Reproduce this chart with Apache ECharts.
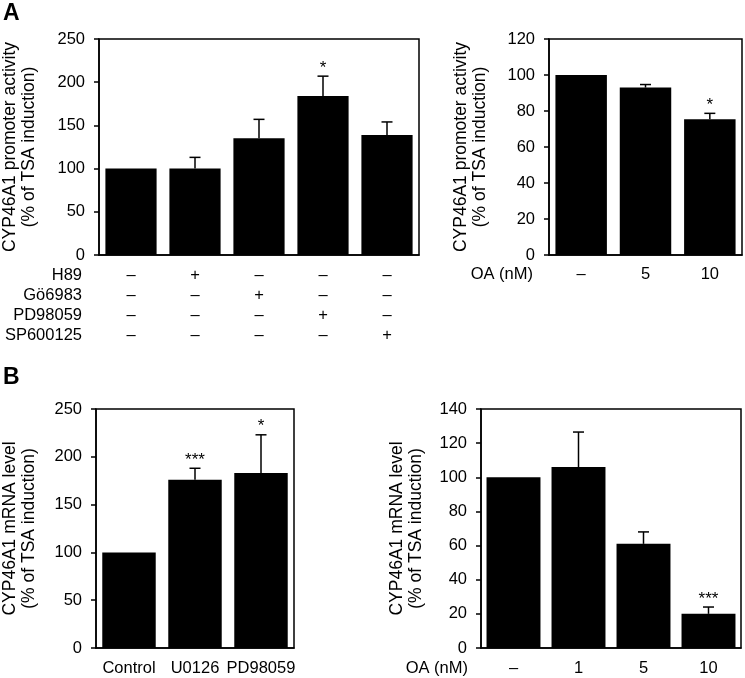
<!DOCTYPE html>
<html>
<head>
<meta charset="utf-8">
<script src="https://cdn.jsdelivr.net/npm/echarts@6/dist/echarts.min.js"></script>
<style>
html,body{margin:0;padding:0;background:#fff;}
#chart{width:745px;height:678px;}
</style>
</head>
<body>
<div id="chart"></div>
<script>
// ---- Data ----
// Panel A (left): promoter activity with kinase inhibitors
const aLeftRows = ['H89', 'Gö6983', 'PD98059', 'SP600125'];
const aLeftTreat = [
  [0, 1, 0, 0, 0],
  [0, 0, 1, 0, 0],
  [0, 0, 0, 1, 0],
  [0, 0, 0, 0, 1]
];
const aLeftVals = [100, 100, 135, 184, 139];
const aLeftSem  = [0, 13, 22, 23, 15];
const aLeftSig  = ['', '', '', '*', ''];
const aLeftTicks = [0, 50, 100, 150, 200, 250];

// Panel A (right): promoter activity with OA
const aRightCats = ['–', '5', '10'];
const aRightVals = [100, 93, 75.4];
const aRightSem  = [0, 1.7, 3.3];
const aRightSig  = ['', '', '*'];
const aRightTicks = [0, 20, 40, 60, 80, 100, 120];

// Panel B (left): mRNA level with MEK inhibitors
const bLeftCats = ['Control', 'U0126', 'PD98059'];
const bLeftVals = [100, 176, 183];
const bLeftSem  = [0, 12, 40];
const bLeftSig  = ['', '***', '*'];
const bLeftTicks = [0, 50, 100, 150, 200, 250];

// Panel B (right): mRNA level with OA
const bRightCats = ['–', '1', '5', '10'];
const bRightVals = [100, 106, 61, 20];
const bRightSem  = [0, 20.5, 7, 4];
const bRightSig  = ['', '', '', '***'];
const bRightTicks = [0, 20, 40, 60, 80, 100, 120, 140];

const rowLabelName = 'OA (nM)';
const nameA = 'CYP46A1 promoter activity\n(% of TSA induction)';
const nameB = 'CYP46A1 mRNA level\n(% of TSA induction)';

// ---- Build ----
const FONT = 'Liberation Sans, Arial, sans-serif';
const FS = 16.5;
const aLeftCats = aLeftVals.map((_, j) => aLeftTreat.map(r => r[j] ? '+' : '–').join('\n'));

const panels = [
  {grid: {left: 97, top: 39, width: 322, height: 216}, cats: aLeftCats, vals: aLeftVals, sem: aLeftSem, sig: aLeftSig, ticks: aLeftTicks, name: nameA, gap: 60, bw: '80%', lblMargin: 10, lh: 20},
  {grid: {left: 549, top: 39, width: 193, height: 216}, cats: aRightCats, vals: aRightVals, sem: aRightSem, sig: aRightSig, ticks: aRightTicks, name: nameA, gap: 59, bw: '80%', lblMargin: 9, lh: 20},
  {grid: {left: 96, top: 409, width: 198, height: 239}, cats: bLeftCats, vals: bLeftVals, sem: bLeftSem, sig: bLeftSig, ticks: bLeftTicks, name: nameB, gap: 57, bw: '81%', lblMargin: 10, lh: 20},
  {grid: {left: 481, top: 409, width: 260, height: 239}, cats: bRightCats, vals: bRightVals, sem: bRightSem, sig: bRightSig, ticks: bRightTicks, name: nameB, gap: 55, bw: '83%', lblMargin: 10, lh: 20}
];

const grids = [], xAxes = [], yAxes = [], series = [];
panels.forEach((p, i) => {
  grids.push(Object.assign({show: true, borderColor: '#000', borderWidth: 1.5, backgroundColor: 'transparent'}, p.grid));
  xAxes.push({
    type: 'category', gridIndex: i, data: p.cats,
    axisLine: {show: true, lineStyle: {color: '#000', width: 1.5}},
    axisTick: {show: false},
    axisLabel: {interval: 0, color: '#000', fontFamily: FONT, fontSize: FS, margin: p.lblMargin, lineHeight: p.lh}
  });
  const tk = p.ticks;
  yAxes.push({
    type: 'value', gridIndex: i, min: tk[0], max: tk[tk.length - 1], interval: tk[1] - tk[0],
    name: p.name, nameLocation: 'middle', nameRotate: 90, nameGap: p.gap,
    nameTextStyle: {color: '#000', fontFamily: FONT, fontSize: 17.5, lineHeight: 19, align: 'center'},
    axisLine: {show: true, lineStyle: {color: '#000', width: 1.5}},
    axisTick: {show: true, inside: false, length: 5, lineStyle: {color: '#000', width: 1.5}},
    axisLabel: {color: '#000', fontFamily: FONT, fontSize: FS, margin: 14},
    splitLine: {show: false}
  });
  series.push({
    type: 'bar', xAxisIndex: i, yAxisIndex: i, data: p.vals, barWidth: p.bw,
    itemStyle: {color: '#000'}, silent: true, z: 2
  });
  const errData = p.vals.map((v, j) => [j, v, v + p.sem[j]]);
  series.push({
    type: 'custom', xAxisIndex: i, yAxisIndex: i, data: errData, z: 3, silent: true,
    renderItem: (params, api) => {
      const j = params.dataIndex;
      if (!p.sem[j]) return null;
      const b = api.coord([api.value(0), api.value(1)]);
      const t = api.coord([api.value(0), api.value(2)]);
      const hw = 5.5;
      return {type: 'group', children: [
        {type: 'line', shape: {x1: b[0], y1: b[1], x2: t[0], y2: t[1]}, style: {stroke: '#000', lineWidth: 1.5}},
        {type: 'line', shape: {x1: t[0] - hw, y1: t[1], x2: t[0] + hw, y2: t[1]}, style: {stroke: '#000', lineWidth: 1.5}}
      ]};
    }
  });
  series.push({
    type: 'custom', xAxisIndex: i, yAxisIndex: i, data: errData, z: 4, silent: true,
    renderItem: (params, api) => {
      const j = params.dataIndex;
      if (!p.sig[j]) return null;
      const t = api.coord([api.value(0), api.value(2)]);
      return {type: 'text', x: t[0], y: t[1] - 8, style: {text: p.sig[j], textAlign: 'center', textVerticalAlign: 'middle', font: '17px ' + FONT, fill: '#000'}};
    }
  });
});

const chart = echarts.init(document.getElementById('chart'), null, {renderer: 'canvas'});
chart.setOption({
  backgroundColor: '#fff',
  animation: false,
  grid: grids, xAxis: xAxes, yAxis: yAxes, series: series,
  graphic: [
    {type: 'text', left: 3, top: 2, style: {text: 'A', font: 'bold 23px ' + FONT, fill: '#000'}},
    {type: 'text', left: 3, top: 366, style: {text: 'B', font: 'bold 23px ' + FONT, fill: '#000'}},
    {type: 'text', x: 82, y: 265, style: {text: aLeftRows.join('\n'), font: FS + 'px ' + FONT, lineHeight: 20, textAlign: 'right', textVerticalAlign: 'top', fill: '#000'}},
    {type: 'text', x: 533, y: 264, style: {text: rowLabelName, font: FS + 'px ' + FONT, lineHeight: 20, textAlign: 'right', textVerticalAlign: 'top', fill: '#000'}},
    {type: 'text', x: 468, y: 658, style: {text: rowLabelName, font: FS + 'px ' + FONT, lineHeight: 20, textAlign: 'right', textVerticalAlign: 'top', fill: '#000'}}
  ]
});
</script>
</body>
</html>
